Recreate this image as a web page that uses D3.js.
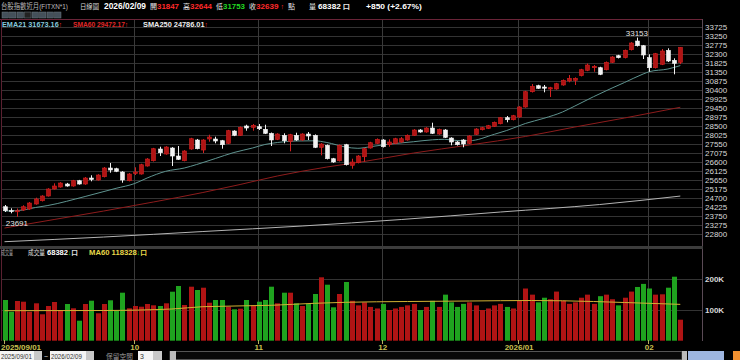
<!DOCTYPE html>
<html lang="zh-Hant">
<head>
<meta charset="utf-8">
<title>台股指數近月 日線圖</title>
<script src="https://d3js.org/d3.v7.min.js"></script>
<style>
  body { margin: 0; background: #000; }
  svg { display: block; font-family: "Liberation Sans", Arial, "Noto Sans CJK TC", sans-serif; }
</style>
</head>
<body>
<svg id="chart" width="740" height="360"></svg>
<script>
// ---- data (daily bars 2025/09/01 .. 2026/02/09) ----
const opens = [24224,24020,23990,24050,24103,24367,24541,24789,25160,25264,
  25422,25317,25597,25422,25739,25634,25808,26267,26230,26056,
  25597,25977,25950,26373,26652,27270,27006,27323,26900,26652,
  27270,27745,27217,27798,27798,27708,27571,28220,27993,28484,
  28415,28447,28310,28098,27782,27993,27676,27993,27745,28061,
  27993,27359,27465,26758,26652,27497,26409,26547,26863,27323,
  27571,27745,27497,27571,27639,27745,27993,28273,28167,28378,
  28061,28273,27850,27639,27745,27571,28046,28288,28362,28468,
  28605,28922,28816,28959,29487,30294,30611,30542,30437,30437,
  30648,30859,30896,31139,31424,31561,31561,31455,31846,32194,
  32089,32511,32970,32722,32089,31561,31740,32479,31951,31847];
const highs = [24314,24140,24130,24300,24470,24700,24830,25200,25459,25520,
  25480,25640,25640,25790,25882,25940,26320,26531,26280,26100,
  26000,26304,26490,26790,27330,27391,27420,27370,27428,27210,
  27860,27800,27790,28025,27919,27750,28280,28260,28460,28552,
  28589,28589,28552,28140,28100,28098,28070,28130,28100,28167,
  28040,27580,27510,26800,27510,27540,26758,26950,27330,27650,
  27830,27790,27782,27860,27900,28040,28320,28320,28420,28658,
  28350,28320,27890,27690,27790,28000,28370,28440,28540,28720,
  28960,29012,29070,29530,30340,30700,30660,30648,30550,30760,
  30940,31175,31050,31500,31780,31703,31610,31890,32170,32240,
  32520,32910,33153,32760,32268,32340,32548,32585,32057,32644];
const lows = [23945,23876,23691,24000,24060,24330,24500,24760,25130,25230,
  25280,25280,25390,25380,25565,25600,25770,26019,26050,25491,
  25560,25897,25920,26340,26610,26900,26970,26373,26690,26620,
  27230,27250,27059,27655,27571,27286,27530,27950,27960,28236,
  28236,28273,28060,27428,27740,27571,27148,27700,27700,27745,
  27320,26937,26720,26540,26610,26400,26230,26510,26599,27290,
  27540,27350,27391,27530,27600,27710,27960,28130,28130,28060,
  28020,27850,27465,27450,27359,27530,28010,28250,28330,28430,
  28570,28679,28780,28920,29450,30250,30440,30262,30014,30400,
  30610,30790,30648,31100,31380,31350,31170,31420,31810,32050,
  32050,32470,32680,32020,31350,31520,31700,31860,31212,31753];
const closes = [24013,24000,24010,24224,24420,24631,24789,25159,25317,25475,
  25317,25597,25422,25739,25660,25897,26267,26161,26093,25634,
  25950,26056,26441,26742,27286,27074,27375,26900,26726,27164,
  27813,27286,27745,27903,27692,27497,28236,27993,28415,28378,
  28521,28341,28098,27745,28061,27708,28025,27745,28061,27956,
  27359,27534,26758,26584,27465,26441,26584,26900,27286,27602,
  27782,27391,27639,27813,27813,27993,28273,28167,28378,28098,
  28310,27887,27639,27497,27534,27956,28325,28394,28500,28679,
  28922,28816,29027,29487,30294,30579,30474,30480,30505,30716,
  30896,31001,31001,31455,31703,31635,31212,31846,32126,32089,
  32479,32864,32722,32231,31561,32300,32442,31914,31789,32639];
const volumes = [132560,94450,129300,127020,94450,121810,85990,113020,126050,100000,
  119530,105530,65140,119530,130280,89240,119530,131580,96730,156340,
  105530,113020,110740,119530,115300,113020,121810,159590,178160,116270,
  175880,165130,172620,123770,132560,132560,110740,102270,104220,132560,
  115300,127020,132560,175880,121810,156340,156340,121810,113020,119530,
  152100,206490,182390,108780,152100,191190,130000,115000,125000,110000,
  105000,120000,100000,105000,110000,115000,120000,100000,110000,130000,
  110000,150000,125000,110000,120000,125000,115000,100000,105000,115000,
  120000,110000,105000,130000,170000,150000,125000,140000,135000,160000,
  130000,120000,125000,140000,150000,120000,145000,150000,135000,115000,
  140000,160000,175000,185000,170000,150000,151120,172620,208450,68382];

// moving averages as [day index, value]
const ema21 = [[0,23990],[3,24050],[5,24182],[7,24288],[13,24763],[18,25196],[21,25449],
  [23,25739],[26,26093],[29,26267],[31,26452],[34,26768],[37,27085],[40,27323],[42,27507],
  [44,27613],[47,27692],[50,27703],[52,27613],[55,27375],[57,27307],[59,27391],[61,27481],
  [63,27560],[66,27655],[69,27755],[71,27782],[73,27718],[75,27708],[79,28046],[81,28246],
  [84,28616],[87,28890],[90,29223],[92,29539],[95,30030],[98,30489],[100,30780],[103,31228],
  [104,31350],[107,31492],[109,31673.16]];
const sma60 = [[0,23100],[8,23549],[16,23997],[24,24472],[32,24974],[38,25396],[44,25845],
  [52,26320],[58,26610],[66,27059],[75,27481],[84,27930],[92,28431],[100,28906],[109,29472.17]];
const sma250 = [[0,22377],[16,22625],[32,22915],[48,23206],[64,23549],[80,23945],[96,24340],[109,24786.01]];
const volMa60 = [[0,97710],[16,98360],[27,103250],[32,110740],[43,115300],[50,121810],[55,125070],
  [65,127670],[75,129300],[85,130930],[95,127670],[100,124400],[109,118328]];

const priceTicks = [33725,33250,32775,32300,31825,31350,30875,30400,29925,29450,28975,28500,
  28025,27550,27075,26600,26125,25650,25175,24700,24225,23750,23275,22800];
const volTicks = [100000, 200000];
const volTickLabels = ["100K", "200K"];
const monthIdx = [0, 21, 41, 61, 83, 104];
const monthLabels = ["2025/09/01", "10", "11", "12", "2026/01", "02"];

// ---- scales ----
const svg = d3.select("#chart");
const x = d3.scaleLinear().domain([0, 109]).range([4.5, 680.3]);
const y = d3.scaleLinear().domain([22800, 33725]).range([233.7, 26.7]);
const yv = d3.scaleLinear().domain([0, 200000]).range([340.7, 279.3]);

const RED = "#b01414", REDLINE = "#d42020", WHITE = "#f2f2f2", GREEN = "#1fa31f";
const days = d3.range(closes.length);

// ---- frames and grid ----
svg.append("rect").attr("width", 740).attr("height", 360).attr("fill", "#000");

// price panel grid lines
svg.append("g").selectAll("line").data(priceTicks).join("line")
  .attr("x1", 2).attr("x2", 702)
  .attr("y1", d => Math.round(y(d)) + 0.5).attr("y2", d => Math.round(y(d)) + 0.5)
  .attr("stroke", "#333");
// volume grid lines
svg.append("g").selectAll("line").data(volTicks).join("line")
  .attr("x1", 2).attr("x2", 702)
  .attr("y1", d => Math.round(yv(d)) + 0.5).attr("y2", d => Math.round(yv(d)) + 0.5)
  .attr("stroke", "#333");
// month lines through both panels
svg.append("g").selectAll("line").data(monthIdx.slice(1)).join("line")
  .attr("x1", d => Math.round(x(d)) - 0.5).attr("x2", d => Math.round(x(d)) - 0.5)
  .attr("y1", 20).attr("y2", 340)
  .attr("stroke", "#3a3a3a");

// panel borders
svg.append("line").attr("x1", 0).attr("x2", 703).attr("y1", 19.5).attr("y2", 19.5).attr("stroke", "#6a2438");
svg.append("line").attr("x1", 1.5).attr("x2", 1.5).attr("y1", 19).attr("y2", 341).attr("stroke", "#5a2030");
svg.append("line").attr("x1", 702.5).attr("x2", 702.5).attr("y1", 19).attr("y2", 341).attr("stroke", "#5a4a55");
svg.append("rect").attr("x", 0).attr("y", 246).attr("width", 703).attr("height", 3).attr("fill", "#3c3c3c");

// ---- moving averages ----
const pline = d3.line().x(d => x(d[0])).y(d => y(d[1])).curve(d3.curveMonotoneX);
svg.append("path").attr("d", pline(sma250)).attr("fill", "none").attr("stroke", "#b4b4b4").attr("stroke-width", 1);
svg.append("path").attr("d", pline(sma60)).attr("fill", "none").attr("stroke", "#8e1c1c").attr("stroke-width", 1);
svg.append("path").attr("d", pline(ema21)).attr("fill", "none").attr("stroke", "#5f9490").attr("stroke-width", 1);

// ---- candles ----
const candle = svg.append("g").selectAll("g").data(days).join("g");
candle.append("line")
  .attr("x1", i => Math.round(x(i)) + 0.5).attr("x2", i => Math.round(x(i)) + 0.5)
  .attr("y1", i => y(highs[i])).attr("y2", i => y(lows[i]))
  .attr("stroke", i => closes[i] >= opens[i] ? REDLINE : WHITE);
candle.append("rect")
  .attr("x", i => Math.round(x(i)) - 1.5).attr("width", 4)
  .attr("y", i => y(Math.max(opens[i], closes[i])))
  .attr("height", i => Math.max(1, Math.abs(y(opens[i]) - y(closes[i]))))
  .attr("fill", i => closes[i] >= opens[i] ? RED : WHITE)
  .attr("stroke", i => closes[i] >= opens[i] ? REDLINE : WHITE)
  .attr("stroke-width", 0.6);

// high / low annotations
const iLow = d3.minIndex(lows), iHigh = d3.maxIndex(highs);
svg.append("text").attr("x", x(iLow)).attr("y", y(lows[iLow]) + 9).attr("text-anchor", "middle")
  .attr("font-size", 8).attr("fill", "#e6e6e6").text(lows[iLow]);
svg.append("text").attr("x", x(iHigh)).attr("y", y(highs[iHigh]) - 2).attr("text-anchor", "middle")
  .attr("font-size", 8).attr("fill", "#e6e6e6").text(highs[iHigh]);

// ---- volume ----
svg.append("g").selectAll("rect").data(days).join("rect")
  .attr("x", i => Math.round(x(i)) - 2).attr("width", 5)
  .attr("y", i => yv(volumes[i])).attr("height", i => yv(0) - yv(volumes[i]))
  .attr("fill", i => closes[i] >= opens[i] ? RED : GREEN);
const vline = d3.line().x(d => x(d[0])).y(d => yv(d[1])).curve(d3.curveMonotoneX);
svg.append("path").attr("d", vline(volMa60)).attr("fill", "none").attr("stroke", "#d2b234").attr("stroke-width", 1);

// ---- right axes ----
svg.append("g").selectAll("text").data(priceTicks).join("text")
  .attr("x", 705).attr("y", d => y(d) + 3)
  .attr("font-size", 8).attr("fill", "#d8d8d8").text(d => d);
svg.append("g").selectAll("text").data(volTicks).join("text")
  .attr("x", 705).attr("y", d => yv(d) + 3)
  .attr("font-size", 8).attr("font-weight", "bold").attr("fill", "#d8d8d8").text((d, i) => volTickLabels[i]);

// ---- bottom date axis ----
svg.append("g").selectAll("line").data(monthIdx).join("line")
  .attr("x1", (d, k) => k === 0 ? 4.5 : Math.round(x(d)) - 0.5)
  .attr("x2", (d, k) => k === 0 ? 4.5 : Math.round(x(d)) - 0.5)
  .attr("y1", 340).attr("y2", 344).attr("stroke", "#b8b060");
svg.append("g").selectAll("text").data(monthIdx).join("text")
  .attr("x", (d, k) => k === 0 ? 1 : x(d))
  .attr("y", 349.5)
  .attr("text-anchor", (d, k) => k === 0 ? "start" : "middle")
  .attr("font-size", 8).attr("font-weight", "bold").attr("fill", "#c9c050")
  .text((d, k) => monthLabels[k]);

// ---- header texts ----
// parts: list of [string, colour, size?]; the whole text is squeezed to `len` px wide
function put(tx, ty, parts, len, bold) {
  const t = svg.append("text").attr("transform", "translate(" + tx + "," + ty + ")")
    .attr("font-size", 8).attr("font-weight", bold ? "bold" : "normal");
  parts.forEach(p => {
    const s = t.append("tspan").attr("fill", p[1]).text(p[0]);
    if (p[2]) s.attr("font-size", p[2]);
  });
  if (len) {
    const w = t.node().getComputedTextLength();
    if (w > 0) t.attr("transform", "translate(" + tx + "," + ty + ") scale(" + (len / w) + ",1)");
  }
  return t;
}
put(1, 8.5, [["台股指數近月(FITXN*1)", "#bdbdbd", 7.5]], 67);
put(80, 8.5, [["日線圖", "#d8d8d8", 7]], 19);
put(104, 8.5, [["2026/02/09", "#ffffff", 8.5]], 42, true);
put(150, 8.5, [["開", "#e8e8e8", 7]]);
put(157, 8.5, [[opens[109], "#ff2a2a"]], 22, true);
put(183, 8.5, [["高", "#e8e8e8", 7]]);
put(190, 8.5, [[highs[109], "#ff2a2a"]], 22, true);
put(216, 8.5, [["低", "#e8e8e8", 7]]);
put(223, 8.5, [[lows[109], "#22d822"]], 22, true);
put(249, 8.5, [["收", "#e8e8e8", 7]]);
put(256, 8.5, [[closes[109], "#ff2a2a"], [" ↑", "#ff2a2a", 7]], 28, true);
put(288, 8.5, [["點", "#e8e8e8", 7]]);
put(309, 8.5, [["量", "#e8e8e8", 7]]);
put(318, 8.5, [[volumes[109], "#ffffff"], [" 口", "#e8e8e8", 7]], 32, true);
put(366, 8.5, [["+850 (+2.67%)", "#ffffff"]], 56, true);

// toolbar buttons
svg.append("g").selectAll("rect").data(d3.range(8)).join("rect")
  .attr("x", k => 2 + k * 7.5).attr("y", 12).attr("width", 6.5).attr("height", 6)
  .attr("fill", k => k === 3 ? "#222" : "#44505a").attr("stroke", "#6b7780").attr("stroke-width", 0.5);

// indicator legend
put(2, 27, [["EMA21 31673.16", "#86c8dc"], ["↑", "#ff3030", 7]], 60, true);
put(73, 27, [["SMA60 29472.17", "#e02828"], ["↑", "#ff3030", 7]], 55, true);
put(143, 27, [["SMA250 24786.01", "#eeeeee"], ["↑", "#ff3030", 7]], 65, true);

// volume legend
put(1, 255, [["成交量", "#a8a8a8", 7]], 12);
put(28, 255, [["成交量", "#e0e0e0", 7]], 17);
put(47, 255, [[volumes[109], "#ffffff"], ["↓", "#22d822", 7], ["口", "#e0e0e0", 7]], 31, true);
put(89, 255, [["MA60 118328", "#e8d84a"], ["↓", "#22d822", 7], ["口", "#e8d84a", 7]], 58, true);

// ---- bottom control strip ----
const strip = svg.append("g");
strip.append("rect").attr("x", 0).attr("y", 351).attr("width", 34).attr("height", 9).attr("fill", "#f4f4f4");
strip.append("rect").attr("x", 34).attr("y", 351).attr("width", 8).attr("height", 9).attr("fill", "#c8c8c8");
strip.append("rect").attr("x", 50).attr("y", 351).attr("width", 36).attr("height", 9).attr("fill", "#f4f4f4");
strip.append("rect").attr("x", 86).attr("y", 351).attr("width", 8).attr("height", 9).attr("fill", "#c8c8c8");
strip.append("rect").attr("x", 138).attr("y", 351).attr("width", 15).attr("height", 9).attr("fill", "#f4f4f4");
strip.append("rect").attr("x", 153).attr("y", 351).attr("width", 9).attr("height", 9).attr("fill", "#c8c8c8");
strip.append("rect").attr("x", 170).attr("y", 351.5).attr("width", 512).attr("height", 8).attr("fill", "#080808").attr("stroke", "#555");
strip.append("rect").attr("x", 170).attr("y", 351).attr("width", 6).attr("height", 9).attr("fill", "#bbb");
strip.append("rect").attr("x", 682).attr("y", 351).attr("width", 5).attr("height", 9).attr("fill", "#bbb");
strip.append("rect").attr("x", 688).attr("y", 351).attr("width", 36).attr("height", 9).attr("fill", "#9eb6e0");
strip.append("rect").attr("x", 733).attr("y", 351).attr("width", 7).attr("height", 9).attr("fill", "#f09030");
put(1, 358.5, [["2025/09/01", "#333", 6.5]], 31);
put(44, 358.5, [["~", "#ddd", 7]]);
put(51, 358.5, [["2026/02/09", "#333", 6.5]], 31);
put(106, 358.5, [["保留空間", "#9a9a9a", 7]], 27);
put(140, 358.5, [["3", "#333", 7]]);
</script>
</body>
</html>
